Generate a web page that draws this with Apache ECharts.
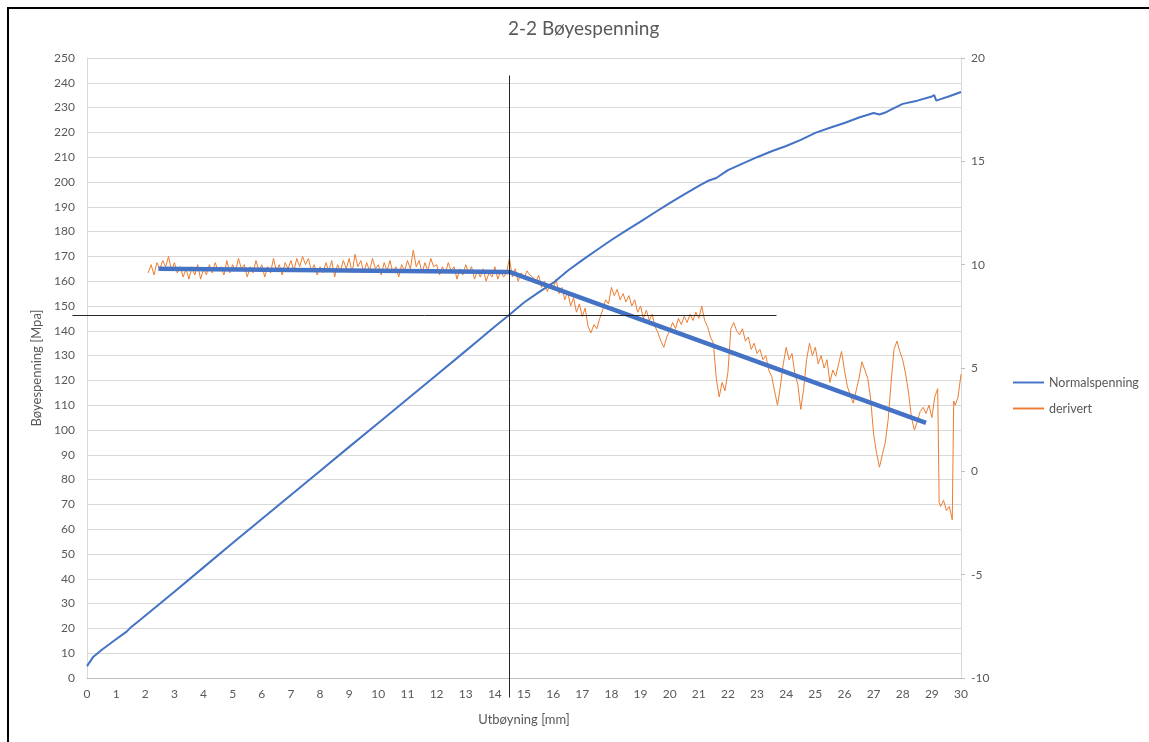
<!DOCTYPE html>
<html>
<head>
<meta charset="utf-8">
<script src="https://cdn.jsdelivr.net/npm/echarts@6/dist/echarts.min.js"></script>
<style>
html,body{margin:0;padding:0;background:#fff;}
#wrap{position:relative;width:1149px;height:742px;overflow:hidden;}
#frame{position:absolute;left:7px;top:7px;width:1200px;height:800px;border-top:2px solid #000;border-left:2px solid #000;pointer-events:none;z-index:5;}
#chart{position:absolute;left:0;top:0;width:1149px;height:742px;}
</style>
</head>
<body>
<div id="wrap"><div id="chart"></div><div id="frame"></div></div>
<script>
// ---- data ----
const titleText = '2-2 Bøyespenning';
const xName = 'Utbøyning [mm]';
const yName = 'Bøyespenning [Mpa]';
const seriesNames = ['Normalspenning', 'derivert'];

// Normalspenning (left axis, MPa)
const normalX = [0, 0.22, 0.5, 0.96, 1.36, 1.53, 1.82, 3, 4, 5, 6, 7, 8, 9, 10, 11, 12, 13, 13.5, 14, 14.5, 15, 15.5, 16, 16.5, 17, 17.5, 18, 18.5, 19, 19.5, 20, 20.5, 21, 21.3, 21.6, 22, 22.5, 23, 23.5, 24, 24.5, 25, 25.5, 26, 26.5, 27, 27.2, 27.4, 27.7, 28, 28.5, 29, 29.08, 29.15, 29.3, 29.6, 30];
const normalY = [4.8, 8.6, 11.3, 15.3, 18.7, 20.7, 23.4, 34.8, 44.6, 54.4, 64.1, 73.8, 83.5, 93.2, 102.8, 112.5, 122.2, 131.9, 136.8, 141.7, 146.5, 151.4, 155.5, 159.3, 164.2, 168.5, 172.6, 176.6, 180.4, 184.0, 187.8, 191.5, 195.0, 198.4, 200.4, 201.6, 204.8, 207.4, 210.0, 212.4, 214.5, 217.0, 219.8, 221.9, 223.8, 226.0, 227.8, 227.2, 228.0, 229.8, 231.5, 232.8, 234.5, 235.0, 232.8, 233.4, 234.6, 236.3];

// derivert (right axis)
const derivX = [2.1,2.2,2.3,2.4,2.5,2.6,2.7,2.8,2.9,3.0,3.1,3.2,3.3,3.4,3.5,3.6,3.7,3.8,3.9,4.0,4.1,4.2,4.3,4.4,4.5,4.6,4.7,4.8,4.9,5.0,5.1,5.2,5.3,5.4,5.5,5.6,5.7,5.8,5.9,6.0,6.1,6.2,6.3,6.4,6.5,6.6,6.7,6.8,6.9,7.0,7.1,7.2,7.3,7.4,7.5,7.6,7.7,7.8,7.9,8.0,8.1,8.2,8.3,8.4,8.5,8.6,8.7,8.8,8.9,9.0,9.1,9.2,9.3,9.4,9.5,9.6,9.7,9.8,9.9,10.0,10.1,10.2,10.3,10.4,10.5,10.6,10.7,10.8,10.9,11.0,11.1,11.2,11.3,11.4,11.5,11.6,11.7,11.8,11.9,12.0,12.1,12.2,12.3,12.4,12.5,12.6,12.7,12.8,12.9,13.0,13.1,13.2,13.3,13.4,13.5,13.6,13.7,13.8,13.9,14.0,14.1,14.2,14.3,14.4,14.5,14.6,14.7,14.8,14.9,15.0,15.1,15.2,15.3,15.4,15.5,15.6,15.7,15.8,15.9,16.0,16.1,16.2,16.3,16.4,16.5,16.6,16.7,16.8,16.9,17.0,17.1,17.2,17.3,17.4,17.5,17.6,17.7,17.8,17.9,18.0,18.1,18.2,18.3,18.4,18.5,18.6,18.7,18.8,18.9,19.0,19.1,19.2,19.3,19.4,19.5,19.6,19.7,19.8,19.9,20.0,20.1,20.2,20.3,20.4,20.5,20.6,20.7,20.8,20.9,21.0,21.1,21.2,21.3,21.4,21.5,21.6,21.7,21.8,21.9,22.0,22.1,22.2,22.3,22.4,22.5,22.6,22.7,22.8,22.9,23.0,23.1,23.2,23.3,23.4,23.5,23.6,23.7,23.8,23.9,24.0,24.1,24.2,24.3,24.4,24.5,24.6,24.7,24.8,24.9,25.0,25.1,25.2,25.3,25.4,25.5,25.6,25.7,25.8,25.9,26.0,26.1,26.2,26.3,26.4,26.5,26.6,26.7,26.8,26.9,27.0,27.1,27.2,27.3,27.4,27.5,27.6,27.7,27.8,27.9,28.0,28.1,28.2,28.3,28.4,28.5,28.6,28.7,28.8,28.9,29.0,29.1,29.2,29.25,29.3,29.4,29.5,29.6,29.7,29.75,29.8,29.9,30.0];
const derivY = [9.6,10.0,9.5,10.1,9.8,10.2,9.9,10.4,9.7,10.1,9.6,9.9,9.4,9.8,9.3,9.9,9.5,10.0,9.3,9.8,9.5,10.0,9.6,10.1,9.7,9.9,9.5,10.2,9.6,10.0,9.7,10.3,9.8,10.0,9.4,9.9,9.6,10.2,9.7,10.0,9.4,9.9,9.6,10.3,9.7,10.0,9.5,10.1,9.8,10.2,9.7,10.3,9.9,10.4,10.0,10.3,9.7,10.0,9.5,9.9,9.6,10.1,9.7,10.2,9.4,10.0,9.7,10.2,9.8,10.3,9.6,10.5,9.9,10.2,9.6,10.1,9.7,10.3,9.8,10.0,9.5,10.1,9.7,10.2,9.6,9.9,9.4,10.0,9.7,10.2,9.8,10.7,9.9,10.2,9.6,10.1,9.7,10.3,9.9,10.0,9.5,9.9,9.6,10.1,9.7,9.9,9.3,9.8,9.5,10.0,9.6,9.9,9.3,9.7,9.4,9.8,9.2,9.6,9.4,9.9,9.3,9.7,9.4,9.6,10.3,9.4,9.8,9.2,9.6,9.3,9.7,9.5,9.4,9.1,9.5,8.9,9.2,8.7,9.1,8.8,9.3,8.6,8.9,8.3,8.7,8.0,8.4,7.7,8.1,7.5,7.9,7.0,6.7,7.1,6.9,7.4,7.8,8.3,8.1,8.9,8.5,8.8,8.3,8.6,8.2,8.5,8.0,8.3,7.7,8.0,7.4,7.8,7.3,7.6,7.0,6.7,6.3,6.0,6.5,6.8,7.2,6.9,7.4,7.1,7.5,7.2,7.6,7.3,7.7,7.4,8.0,7.3,7.0,6.5,6.2,4.5,3.6,4.3,3.9,4.8,6.9,7.2,6.8,6.6,6.9,6.3,6.5,5.9,6.2,5.7,5.9,5.4,5.6,4.9,4.6,3.9,3.2,4.1,5.2,6.0,5.4,5.7,4.7,4.2,3.0,4.0,5.4,6.2,5.6,6.0,5.2,5.6,5.0,5.4,4.3,4.9,4.6,5.2,5.8,4.9,4.1,3.7,3.3,3.9,4.5,5.3,4.9,4.5,3.5,1.8,0.9,0.2,0.8,1.4,2.5,4.3,5.9,6.3,5.8,5.4,4.7,3.8,2.6,2.0,2.4,2.9,3.1,2.8,3.2,2.6,3.6,4.0,-1.5,-1.7,-1.4,-1.9,-1.7,-2.35,3.4,3.2,3.6,4.7];

// linear trend segments (right axis)
const trendX = [2.45, 14.5, 28.8];
const trendY = [9.8, 9.65, 2.35];

// black guide lines (left axis units)
const vLineX = [14.5, 14.5];
const vLineY = [243, -7.7];
const hLineX = [-0.5, 23.64];
const hLineY = [146.5, 146.5];

const zip = (xs, ys) => xs.map((x, i) => [x, ys[i]]);

const chart = echarts.init(document.getElementById('chart'), null, {renderer: 'canvas'});
const FONT = 'Lato, "Open Sans", sans-serif';
const gray = '#595959';
const linePath = 'path://M0,0 L32,0 L32,2 L0,2 Z';

chart.setOption({
  animation: false,
  backgroundColor: '#fff',
  title: {
    text: titleText, left: 503, top: 14,
    textStyle: {fontFamily: FONT, fontSize: 19, fontWeight: 'normal', color: gray}
  },
  legend: {
    orient: 'vertical', left: 1008, top: 371, itemGap: 13,
    itemWidth: 31, itemHeight: 2,
    data: [{name: seriesNames[0], icon: linePath}, {name: seriesNames[1], icon: linePath}],
    textStyle: {fontFamily: FONT, fontSize: 12.5, color: gray}
  },
  grid: {left: 87, right: 188, top: 58, bottom: 64, containLabel: false},
  xAxis: {
    type: 'value', min: 0, max: 30, interval: 1,
    name: xName, nameLocation: 'middle', nameGap: 35,
    nameTextStyle: {fontFamily: FONT, fontSize: 13, color: gray},
    axisLine: {show: true, lineStyle: {color: '#BFBFBF'}},
    axisTick: {show: false},
    axisLabel: {fontFamily: FONT, fontSize: 12, color: gray, margin: 10},
    splitLine: {show: false}
  },
  yAxis: [{
    type: 'value', min: 0, max: 250, interval: 10,
    name: yName, nameLocation: 'middle', nameGap: 44,
    nameTextStyle: {fontFamily: FONT, fontSize: 13, color: gray},
    axisLine: {show: true, lineStyle: {color: '#D9D9D9'}},
    axisTick: {show: false},
    axisLabel: {fontFamily: FONT, fontSize: 12, color: gray, margin: 12},
    splitLine: {show: true, lineStyle: {color: '#D9D9D9'}}
  }, {
    type: 'value', min: -10, max: 20, interval: 5, position: 'right',
    axisLine: {show: true, lineStyle: {color: '#D9D9D9'}},
    axisTick: {show: true, length: 4, lineStyle: {color: '#BFBFBF'}},
    axisLabel: {fontFamily: FONT, fontSize: 12, color: gray, margin: 10},
    splitLine: {show: false}
  }],
  series: [
    {
      name: seriesNames[0], type: 'line', yAxisIndex: 0, symbol: 'none',
      data: zip(normalX, normalY),
      lineStyle: {color: '#4472C4', width: 2}, itemStyle: {color: '#4472C4'}, z: 3
    },
    {
      name: seriesNames[1], type: 'line', yAxisIndex: 1, symbol: 'none',
      data: zip(derivX, derivY),
      lineStyle: {color: '#ED7D31', width: 1}, itemStyle: {color: '#ED7D31'}, z: 2
    },
    {
      name: 'trend', type: 'line', yAxisIndex: 1, symbol: 'none', silent: true,
      data: zip(trendX, trendY),
      lineStyle: {color: '#4472C4', width: 4.5}, z: 4
    }
  ]
});

// guide lines placed through the chart's own axis scales
function guide(xs, ys) {
  const p0 = chart.convertToPixel({xAxisIndex: 0, yAxisIndex: 0}, [xs[0], ys[0]]);
  const p1 = chart.convertToPixel({xAxisIndex: 0, yAxisIndex: 0}, [xs[1], ys[1]]);
  return {
    type: 'line', silent: true, z: 100,
    shape: {x1: Math.round(p0[0]) + 0.5, y1: Math.round(p0[1]) + 0.5, x2: Math.round(p1[0]) + 0.5, y2: Math.round(p1[1]) + 0.5},
    style: {stroke: '#262626', lineWidth: 1}
  };
}
chart.setOption({graphic: [guide(vLineX, vLineY), guide(hLineX, hLineY)]});
</script>
</body>
</html>
